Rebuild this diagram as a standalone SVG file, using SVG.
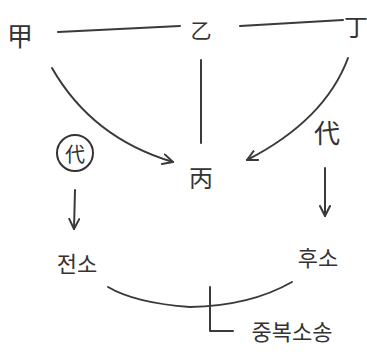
<svg xmlns="http://www.w3.org/2000/svg" width="367" height="352" viewBox="0 0 367 352">
<style>
text{font-family:"Noto Sans CJK KR","Noto Sans CJK SC",sans-serif;fill:#333;text-anchor:middle;dominant-baseline:central}
.c{fill:none;stroke:#3a3a3a;stroke-width:2;stroke-linecap:round;stroke-linejoin:round}
</style>
<defs>
<marker id="ah" viewBox="0 0 12 12" refX="11" refY="6" markerWidth="12" markerHeight="12" markerUnits="userSpaceOnUse" orient="auto">
<path d="M1,1 L11,6 L1,11" fill="none" stroke="#3a3a3a" stroke-width="2" stroke-linecap="round" stroke-linejoin="round"/>
</marker>
</defs>
<rect width="367" height="352" fill="#fff"/>
<g id="connectors">
<path class="c" d="M58,32 L180,26"/>
<path class="c" d="M240,26 L343,20"/>
<path class="c" d="M201,60 L201,143"/>
<path class="c" d="M52,68 Q92,138 173,162" marker-end="url(#ah)"/>
<path class="c" d="M348,58 Q325,120 247,160" marker-end="url(#ah)"/>
<path class="c" d="M75,190 L74,229" marker-end="url(#ah)"/>
<path class="c" d="M325,168 L325,216" marker-end="url(#ah)"/>
<path class="c" d="M108,287 Q135,303 190,307 Q250,306 292,282"/>
<path class="c" d="M210,287 L210,331 L233,331"/>
</g>
<g id="gap"><text x="20" y="34" font-size="26">甲</text></g>
<g id="eul"><text x="201" y="29" font-size="21">乙</text></g>
<g id="jeong"><text x="356" y="25" font-size="24">丁</text></g>
<g id="byeong"><text x="201" y="176" font-size="24">丙</text></g>
<g id="dae-left"><circle cx="75" cy="153" r="18" fill="none" stroke="#333" stroke-width="2"/><text x="75" y="153" font-size="20">代</text></g>
<g id="dae-right"><text x="327" y="131" font-size="26">代</text></g>
<g id="jeonso"><text x="77" y="262" font-size="22">전소</text></g>
<g id="huso"><text x="318" y="256" font-size="22">후소</text></g>
<g id="jungbok"><text x="292" y="330" font-size="22">중복소송</text></g>
</svg>
